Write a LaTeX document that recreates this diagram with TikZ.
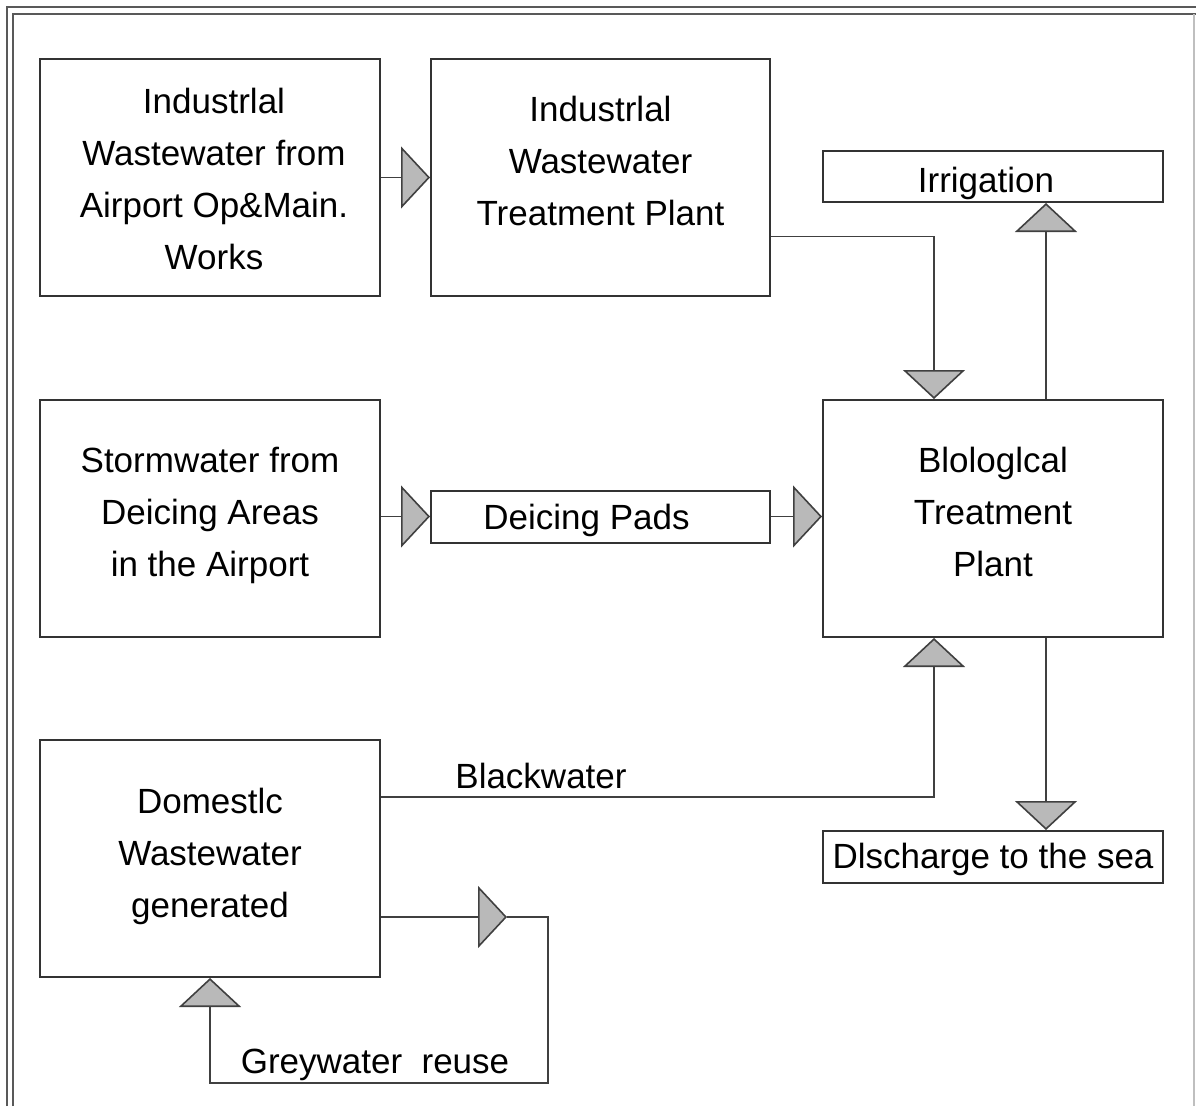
\documentclass[tikz,border=0pt]{standalone}
\usepackage{fontspec}
\setmainfont{Liberation Sans}
\usetikzlibrary{arrows.meta}
\tikzset{
  box/.style={draw=black!80, line width=2pt, inner sep=0pt, align=center, font=\fontsize{35}{52}\selectfont},
  txt/.style={draw=none, inner sep=0pt, align=center, font=\fontsize{35}{52}\selectfont},
  conn/.style={draw=black!75, line width=1.6pt, -{Triangle[length=29pt,width=62pt,fill=gray!55]}},
  lbl/.style={font=\fontsize{35}{40}\selectfont, inner sep=0pt},
  frame/.style={draw=black!65, line width=2.5pt}
}
\begin{document}
\begin{tikzpicture}[x=1pt,y=-1pt]
\useasboundingbox (0,0) rectangle (1196,1106);
% frame
\draw[frame] (7,1106) -- (7,7) -- (1196,7);
\draw[frame] (13,1106) -- (13,14) -- (1196,14);
\draw[draw=black!25, line width=1.5pt] (1194,14) -- (1194,1106);
% boxes
\node[box, minimum width=340pt, minimum height=237pt,
  label={[txt, yshift=-1pt, xshift=4pt]center:{Industrlal\\Wastewater from\\Airport Op\&Main.\\Works}}] (A) at (210,177.5) {};
\node[box, minimum width=339pt, minimum height=237pt,
  label={[txt, yshift=17pt]center:{Industrlal\\Wastewater\\Treatment Plant}}] (B) at (600.5,177.5) {};
\node[box, minimum width=340pt, minimum height=51pt,
  label={[txt, yshift=-7pt, xshift=-7pt]center:{Irrigation}}] (Irr) at (993,176.5) {};
\node[box, minimum width=340pt, minimum height=237pt,
  label={[txt, yshift=3pt]center:{Stormwater from\\Deicing Areas\\in the Airport}}] (C) at (210,518.5) {};
\node[box, minimum width=339pt, minimum height=52pt,
  label={[txt, yshift=-4pt, xshift=-14pt]center:{Deicing Pads}}] (D) at (600.5,516.5) {};
\node[box, minimum width=340pt, minimum height=237pt,
  label={[txt, yshift=7pt]center:{Blologlcal\\Treatment\\Plant}}] (Bio) at (993,518.5) {};
\node[box, minimum width=340pt, minimum height=237pt,
  label={[txt, yshift=2pt]center:{Domestlc\\Wastewater\\generated}}] (Dom) at (210,858.5) {};
\node[box, minimum width=340pt, minimum height=52pt,
  label={[txt, yshift=-2pt]center:{Dlscharge to the sea}}] (Dis) at (993,857) {};
% connectors
\coordinate (g1) at (507,917);
\coordinate (g2) at (548,1083);
\coordinate (b1) at (380,797);
\draw[conn] (A.east) -- (B.west);
\draw[conn] ([yshift=-59pt]B.east) -| ([xshift=-59pt]Bio.north);
\draw[conn] ([xshift=53pt]Bio.north) -- ([xshift=53pt]Irr.south);
\draw[conn] (D.west -| C.east) -- (D.west);
\draw[conn] (D.east) -- (D.east -| Bio.west);
\draw[conn] (Dom.east |- b1) -| ([xshift=-59pt]Bio.south);
\draw[conn] ([xshift=53pt]Bio.south) -- ([xshift=53pt]Dis.north);
\draw[conn] (Dom.east |- g1) -- (g1);
\draw[conn] (g1) -| (g2) -| (Dom.south);
% labels
\node[lbl] (bw) at (541,776) {Blackwater};
\node[lbl] (gr) at (375,1065) {Greywater\ \ reuse};
\end{tikzpicture}
\end{document}
